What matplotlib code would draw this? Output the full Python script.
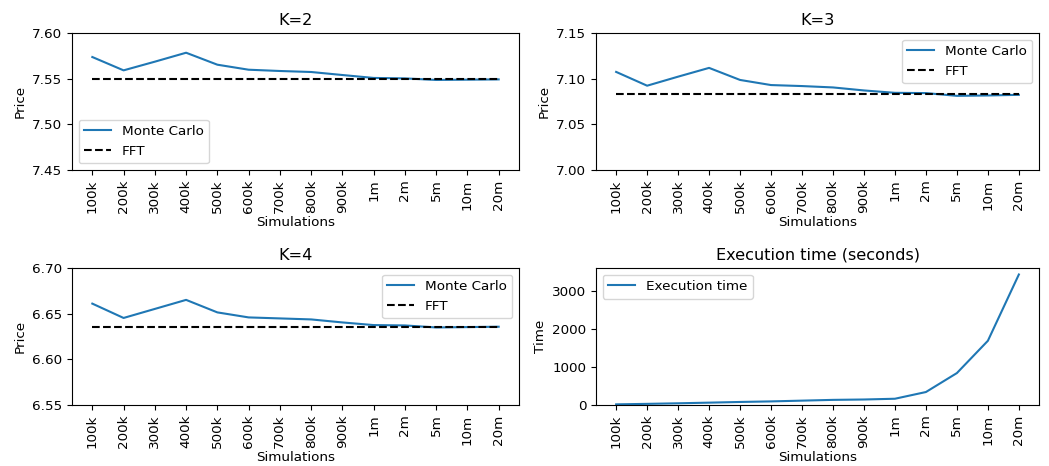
import matplotlib
matplotlib.use("Agg")
import matplotlib.pyplot as plt

# simulation counts on the x axis
sims = ["100k", "200k", "300k", "400k", "500k", "600k", "700k",
        "800k", "900k", "1m", "2m", "5m", "10m", "20m"]

# monte carlo prices per strike
mc_k2 = [7.5737, 7.5591, 7.5686, 7.5784, 7.5653, 7.5598, 7.5584,
         7.5573, 7.5540, 7.5508, 7.5503, 7.5486, 7.5489, 7.5492]
mc_k3 = [7.1074, 7.0923, 7.1022, 7.1118, 7.0986, 7.0930, 7.0919,
         7.0904, 7.0871, 7.0845, 7.0842, 7.0812, 7.0816, 7.0823]
mc_k4 = [6.6610, 6.6453, 6.6552, 6.6651, 6.6514, 6.6459, 6.6448,
         6.6437, 6.6404, 6.6375, 6.6371, 6.6349, 6.6353, 6.6357]

# fft reference prices
fft_k2 = 7.5497
fft_k3 = 7.0827
fft_k4 = 6.6357

# execution time in seconds
exec_time = [17, 30, 45, 62, 80, 95, 115, 135, 145, 165, 342, 842, 1693, 3440]

plt.rcParams["font.size"] = 9.7

fig = plt.figure(figsize=(10.49, 4.66), dpi=100)
W, H = 1049, 466

def make_ax(x0, x1, y0, y1):
    return fig.add_axes([x0 / W, 1 - y1 / H, (x1 - x0) / W, (y1 - y0) / H])

ax1 = make_ax(72, 519, 33, 170)
ax2 = make_ax(596, 1039, 33, 170)
ax3 = make_ax(72, 519, 268, 405)
ax4 = make_ax(596, 1039, 268, 405)

x = list(range(len(sims)))

def price_panel(ax, mc, fft, title, ylim, loc):
    ax.plot(x, mc, label="Monte Carlo")
    ax.plot(x, [fft] * len(x), "k--", label="FFT")
    ax.set_title(title)
    ax.set_ylim(*ylim)
    ax.set_yticks([ylim[0] + 0.05 * i for i in range(4)])
    ax.set_ylabel("Price")
    ax.set_xlabel("Simulations", labelpad=2)
    ax.set_xticks(x)
    ax.set_xticklabels(sims, rotation=90)
    ax.legend(loc=loc)

price_panel(ax1, mc_k2, fft_k2, "K=2", (7.45, 7.60), "lower left")
price_panel(ax2, mc_k3, fft_k3, "K=3", (7.00, 7.15), "upper right")
price_panel(ax3, mc_k4, fft_k4, "K=4", (6.55, 6.70), "upper right")

ax4.plot(x, exec_time, label="Execution time")
ax4.set_title("Execution time (seconds)")
ax4.set_ylim(bottom=0)
ax4.set_ylabel("Time")
ax4.set_xlabel("Simulations", labelpad=2)
ax4.set_xticks(x)
ax4.set_xticklabels(sims, rotation=90)
ax4.legend(loc="upper left")

fig.savefig("out.png", dpi=100)
